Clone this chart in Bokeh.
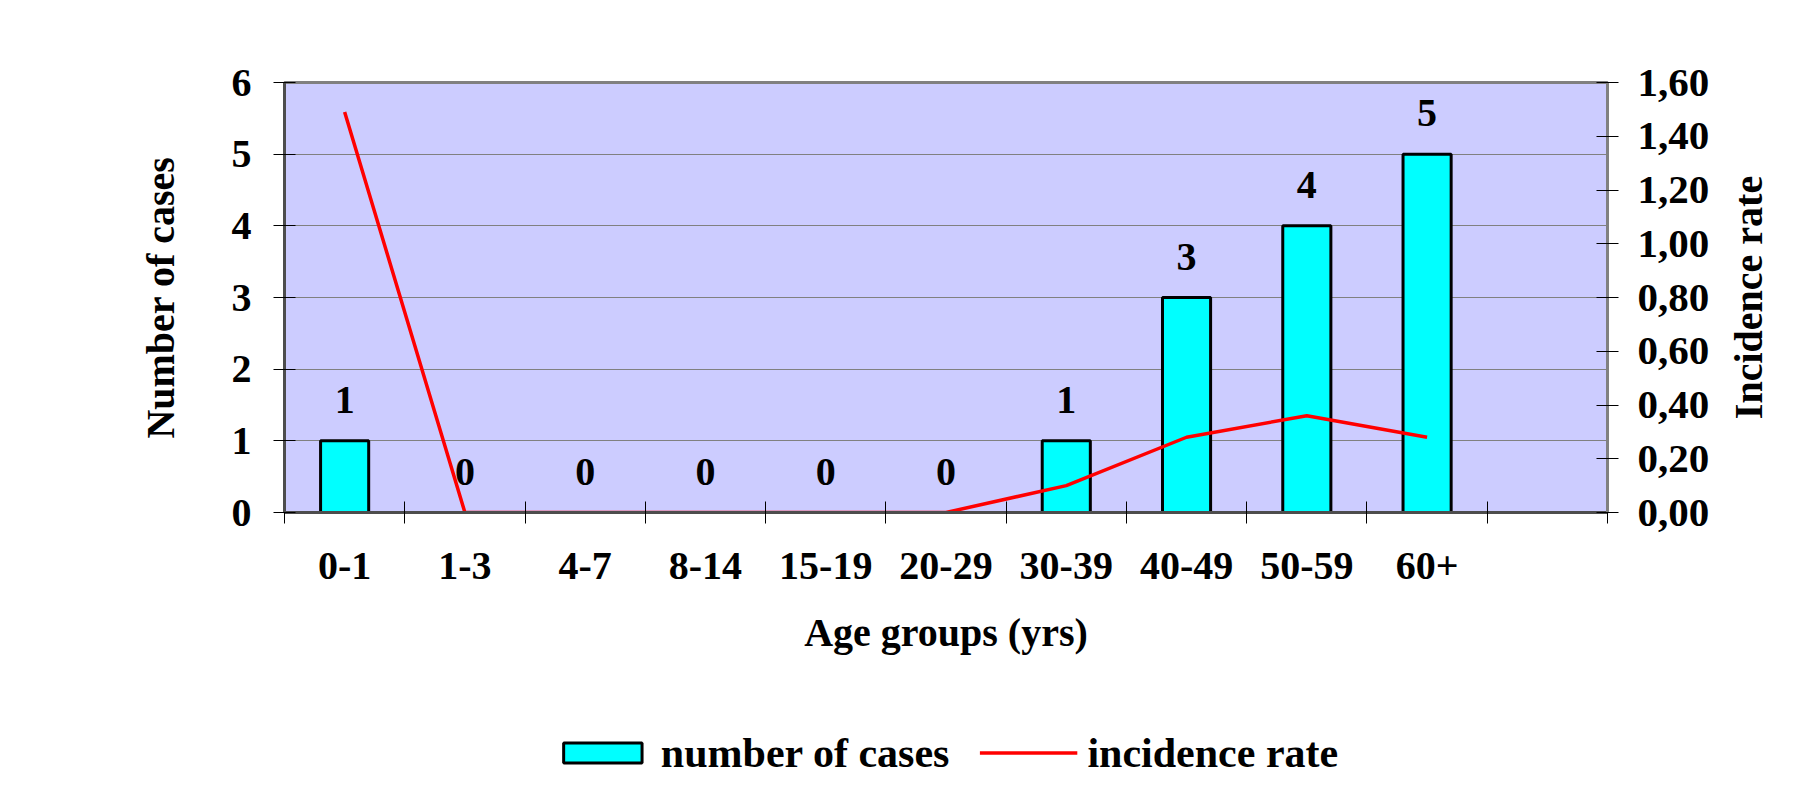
import math
from bokeh.plotting import figure
from bokeh.layouts import column, row
from bokeh.models import (Range1d, LinearAxis, FixedTicker,
                          CustomJSTickFormatter, ColumnDataSource, LabelSet, Legend, LegendItem)
from bokeh.core.properties import value
from bokeh.embed import file_html
from bokeh.resources import INLINE

# ---- data ----
age_groups = ["0-1", "1-3", "4-7", "8-14", "15-19", "20-29", "30-39", "40-49", "50-59", "60+"]
cases = [1, 0, 0, 0, 0, 0, 1, 3, 4, 5]
incidence_rate = [1.49, 0.0, 0.0, 0.0, 0.0, 0.0, 0.10, 0.28, 0.36, 0.28]
case_ticks = [0, 1, 2, 3, 4, 5, 6]
rate_ticks = [0.0, 0.2, 0.4, 0.6, 0.8, 1.0, 1.2, 1.4, 1.6]
x_title = "Age groups (yrs)"
y_title_left = "Number of cases"
y_title_right = "Incidence rate"
legend_labels = ["number of cases", "incidence rate"]

FONT = "Liberation Serif"
FS = "40px"
W_TOTAL = 1806
W_MAIN = 1712
H_MAIN = 692
BAR_FILL = "#00FFFF"
LINE_COL = "#FF0000"

n_slots = len(age_groups) + 1          # the original leaves one empty slot on the right
slot_centre = [i + 0.5 for i in range(len(age_groups))]

fig = figure(width=W_MAIN, height=H_MAIN,
             x_range=Range1d(0, n_slots), y_range=Range1d(case_ticks[0], case_ticks[-1]),
             output_backend="svg", toolbar_location=None,
             x_axis_location=None, y_axis_location="left",
             min_border_left=284, min_border_right=W_MAIN - 1607, min_border_top=82,
             min_border_bottom=180,
             background_fill_color="#CCCCFF", border_fill_color="white")

fig.extra_y_ranges = {"rate": Range1d(rate_ticks[0], rate_ticks[-1])}

fig.outline_line_color = "#808080"
fig.outline_line_width = 3

for g in fig.xgrid:
    g.visible = False
fig.ygrid.grid_line_color = "#808080"
fig.ygrid.grid_line_width = 1

src = ColumnDataSource(dict(x=slot_centre, age=age_groups, cases=cases, rate=incidence_rate,
                            lbl=[str(c) for c in cases]))

fig.vbar(x="x", top="cases", width=0.4, source=src,
         fill_color=BAR_FILL, line_color="black", line_width=3)
fig.line(x="x", y="rate", source=src, y_range_name="rate",
         line_color=LINE_COL, line_width=3.5)

labels = LabelSet(x="x", y="cases", text="lbl", source=src, y_offset=28,
                  text_align="center", text_baseline="alphabetic",
                  text_font=value(FONT), text_font_style="bold", text_font_size=FS,
                  text_color="black")
fig.add_layout(labels)

# left axis
ax = fig.yaxis[0]
ax.ticker = FixedTicker(ticks=case_ticks)
ax.major_tick_in = 11
ax.major_tick_out = 11
ax.major_tick_line_color = "black"
ax.minor_tick_line_color = None
ax.axis_line_color = "#4d4d4d"
ax.axis_line_width = 3
ax.major_label_standoff = 22
ax.major_label_text_font = FONT
ax.major_label_text_font_style = "bold"
ax.major_label_text_font_size = FS
ax.major_label_text_color = "black"
ax.axis_label = y_title_left
ax.axis_label_standoff = 46
ax.axis_label_text_font = FONT
ax.axis_label_text_font_style = "bold"
ax.axis_label_text_font_size = FS
ax.axis_label_text_color = "black"

# right axis (its title is drawn in the strip to its right, reading bottom-to-top)
rax = LinearAxis(y_range_name="rate", ticker=FixedTicker(ticks=rate_ticks),
                 formatter=CustomJSTickFormatter(code="return tick.toFixed(2).replace('.', ',');"))
rax.major_tick_in = 11
rax.major_tick_out = 11
rax.major_tick_line_color = "black"
rax.minor_tick_line_color = None
rax.axis_line_color = "#808080"
rax.axis_line_width = 3
rax.major_label_standoff = 19
rax.major_label_text_font = FONT
rax.major_label_text_font_style = "bold"
rax.major_label_text_font_size = "41px"
rax.major_label_text_color = "black"
fig.add_layout(rax, "right")

# bottom axis: ticks at slot boundaries, labels at slot centres
xax = LinearAxis(ticker=FixedTicker(ticks=slot_centre, minor_ticks=list(range(n_slots + 1))),
                 formatter=CustomJSTickFormatter(args=dict(names=age_groups),
                                                 code="return names[Math.floor(tick)];"))
xax.major_tick_line_color = None
xax.major_tick_in = 0
xax.major_tick_out = 0
xax.minor_tick_in = 11
xax.minor_tick_out = 11
xax.minor_tick_line_color = "black"
xax.axis_line_color = "#4d4d4d"
xax.axis_line_width = 3
xax.major_label_standoff = 29
xax.major_label_text_font = FONT
xax.major_label_text_font_style = "bold"
xax.major_label_text_font_size = FS
xax.major_label_text_color = "black"
xax.axis_label = x_title
xax.axis_label_standoff = 28
xax.axis_label_text_font = FONT
xax.axis_label_text_font_style = "bold"
xax.axis_label_text_font_size = FS
xax.axis_label_text_color = "black"
fig.add_layout(xax, "below")

# strip to the right holding the right-hand axis title
W_T = W_TOTAL - W_MAIN
tfig = figure(width=W_T, height=H_MAIN, x_range=Range1d(0, W_T), y_range=Range1d(0, 1),
              output_backend="svg", toolbar_location=None,
              x_axis_location=None, y_axis_location=None,
              min_border_left=0, min_border_right=0, min_border_top=82, min_border_bottom=180,
              background_fill_color="white", border_fill_color="white", outline_line_color=None)
for g in tfig.grid:
    g.visible = False
tfig.text(x=[36], y=[0.5], text=[y_title_right], angle=math.pi / 2,
          text_align="center", text_baseline="alphabetic",
          text_font=value(FONT), text_font_style="bold", text_font_size=FS, text_color="black")

# legend strip below the chart (same horizontal frame as the chart)
leg_fig = figure(width=W_TOTAL, height=91, x_range=Range1d(0, 1), y_range=Range1d(0, 1),
                 output_backend="svg", toolbar_location=None,
                 x_axis_location=None, y_axis_location=None,
                 min_border_left=284, min_border_right=W_TOTAL - 1607, min_border_top=30,
                 min_border_bottom=0,
                 background_fill_color="white", border_fill_color="white",
                 outline_line_color=None)
for g in leg_fig.grid:
    g.visible = False
leg_bars = leg_fig.vbar(x="x", top="cases", width=0.4, source=src, visible=False,
                        fill_color=BAR_FILL, line_color="black", line_width=3)
leg_line = leg_fig.line(x="x", y="rate", source=src, visible=False,
                        line_color=LINE_COL, line_width=3.5)
legend = Legend(items=[LegendItem(label=legend_labels[0], renderers=[leg_bars]),
                       LegendItem(label=legend_labels[1], renderers=[leg_line])],
                orientation="horizontal", location="center",
                glyph_width=98, glyph_height=25, label_standoff=10, spacing=30,
                label_text_font=FONT, label_text_font_style="bold",
                label_text_font_size="42px", label_text_color="black",
                border_line_color=None, background_fill_alpha=0,
                margin=0, padding=0)
leg_fig.add_layout(legend)

p = column(row(fig, tfig, spacing=0), leg_fig, spacing=0)

open("out.html", "w").write(file_html(p, INLINE))
